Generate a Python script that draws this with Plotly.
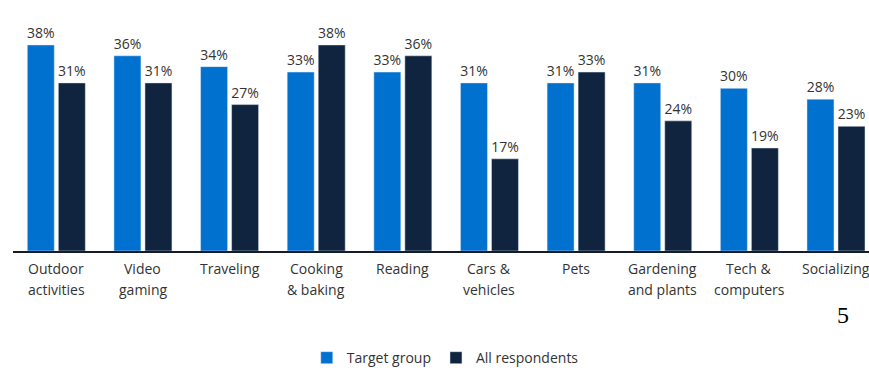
import plotly.graph_objects as go

# Hobby categories (each inner list is one label line)
label_lines = [
    ["Outdoor", "activities"],
    ["Video", "gaming"],
    ["Traveling"],
    ["Cooking", "& baking"],
    ["Reading"],
    ["Cars &", "vehicles"],
    ["Pets"],
    ["Gardening", "and plants"],
    ["Tech &", "computers"],
    ["Socializing"],
]
categories = [" ".join(lines) for lines in label_lines]

# Share of people naming each hobby (%)
target_group = [38, 36, 34, 33, 33, 31, 31, 31, 30, 28]
all_respondents = [31, 31, 27, 38, 36, 17, 33, 24, 19, 23]

BLUE = "#0071cf"
NAVY = "#10243f"
TEXT = "#333333"
FONT = "Open Sans"

fig = go.Figure()
fig.add_trace(go.Bar(
    name="Target group", x=categories, y=target_group,
    marker_color=BLUE, text=[f"{v}%" for v in target_group],
    textposition="outside", constraintext="none", cliponaxis=False,
    textfont=dict(family=FONT, size=14, color=TEXT),
))
fig.add_trace(go.Bar(
    name="All respondents", x=categories, y=all_respondents,
    marker_color=NAVY, text=[f"{v}%" for v in all_respondents],
    textposition="outside", constraintext="none", cliponaxis=False,
    textfont=dict(family=FONT, size=14, color=TEXT),
))

# Category labels drawn line by line for tighter control of spacing
annotations = []
for cat, lines in zip(categories, label_lines):
    for i, line in enumerate(lines):
        annotations.append(dict(
            x=cat, xref="x", y=0, yref="paper",
            text=line, showarrow=False,
            xanchor="center", yanchor="middle",
            yshift=-17.5 - 21 * i,
            font=dict(family=FONT, size=14, color=TEXT),
        ))

# Page number
annotations.append(dict(
    x=0.9696, xref="paper", y=-0.275, yref="paper",
    text="5", showarrow=False, xanchor="center", yanchor="middle",
    font=dict(family="Liberation Serif", size=24, color="#000000"),
))

fig.update_layout(
    width=869, height=368,
    margin=dict(l=13, r=0, t=20, b=117, autoexpand=False),
    paper_bgcolor="white", plot_bgcolor="white",
    barmode="group", bargap=0.284, bargroupgap=0.129,
    font=dict(family=FONT, size=14, color=TEXT),
    showlegend=True,
    legend=dict(
        orientation="h", x=0.505, xanchor="center",
        y=0.027, yref="container", yanchor="middle",
        font=dict(family=FONT, size=14, color=TEXT),
        bgcolor="rgba(0,0,0,0)",
    ),
    annotations=annotations,
)
fig.update_xaxes(
    type="category", range=[-0.5, 9.381],
    showticklabels=False, ticks="",
    showline=True, linecolor="#141c2c", linewidth=2,
    showgrid=False, zeroline=False, fixedrange=True,
)
fig.update_yaxes(
    range=[0, 42.6], visible=False, showgrid=False, zeroline=False,
)

fig.write_html("out.html")
